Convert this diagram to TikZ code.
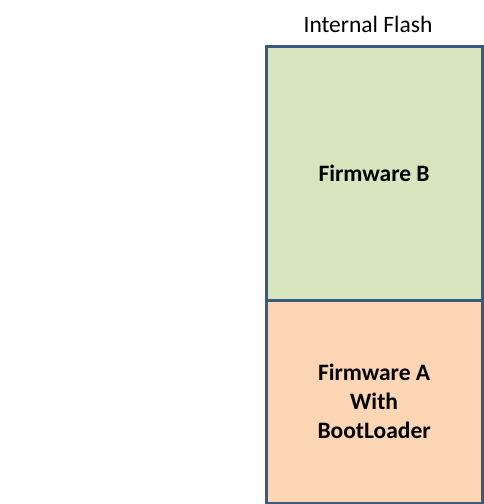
\documentclass[tikz,border=0pt]{standalone}
\usepackage{fontspec}
\setmainfont{Carlito}
\usetikzlibrary{positioning}
\definecolor{edgeblue}{HTML}{3B5A80}
\definecolor{fwgreen}{HTML}{D7E4BD}
\definecolor{fworange}{HTML}{FCD5B5}

\begin{document}
\begin{tikzpicture}[x=1pt, y=-1pt, node distance=0pt]

  % styles
  \tikzstyle{region} = [rectangle, minimum width=216pt, text centered, align=center, draw=edgeblue, line width=3.2pt, font=\fontsize{23.5}{29}\selectfont\bfseries]
  \tikzstyle{caption} = [font=\fontsize{23.5}{28}\selectfont]

  % frame
  \useasboundingbox (0,0) rectangle (484,504);

  % flash regions
  \node (fwb) [region, fill=fwgreen, minimum height=254pt, anchor=north west] at (264.5,44.5) {Firmware B};
  \node (fwa) [region, fill=fworange, minimum height=203pt, below=-3.2pt of fwb] {Firmware A\\With\\BootLoader};

  % title
  \node (flash) [caption, anchor=base] at (368,32) {Internal Flash};

\end{tikzpicture}
\end{document}
